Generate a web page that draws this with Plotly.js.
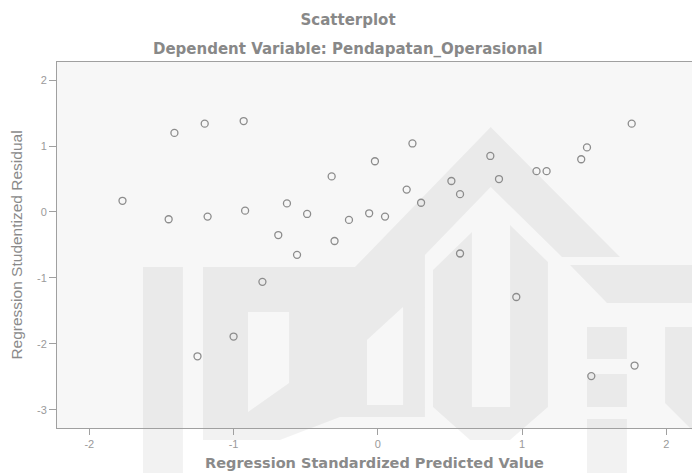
<!DOCTYPE html>
<html>
<head>
<meta charset="utf-8">
<script src="https://cdn.plot.ly/plotly-3.0.1.min.js"></script>
<style>
html, body { margin: 0; padding: 0; background: #ffffff; }
#chart { width: 692px; height: 473px; }
</style>
</head>
<body>
<div id="chart"></div>
<script>
// Regression Standardized Predicted Value (x) and Regression Studentized Residual (y)
const predictedValue = [-1.77, -1.45, -1.41, -1.25, -1.20, -1.18, -1.00, -0.93, -0.92, -0.80,
  -0.69, -0.63, -0.56, -0.49, -0.32, -0.30, -0.20, -0.06, -0.02, 0.05,
  0.20, 0.24, 0.30, 0.51, 0.57, 0.57, 0.78, 0.84, 0.96, 1.10,
  1.17, 1.41, 1.45, 1.48, 1.76, 1.78];
const studentizedResidual = [0.17, -0.11, 1.20, -2.19, 1.34, -0.07, -1.89, 1.38, 0.02, -1.06,
  -0.35, 0.13, -0.65, -0.03, 0.54, -0.44, -0.12, -0.02, 0.77, -0.07,
  0.34, 1.04, 0.14, 0.47, 0.27, -0.63, 0.85, 0.50, -1.29, 0.62,
  0.62, 0.80, 0.98, -2.49, 1.34, -2.33];
const xTickValues = [-2, -1, 0, 1, 2];
const yTickValues = [-3, -2, -1, 0, 1, 2];
const chartTitle = 'Scatterplot';
const chartSubtitle = 'Dependent Variable: Pendapatan_Operasional';
const xTitle = 'Regression Standardized Predicted Value';
const yTitle = 'Regression Studentized Residual';

// layout geometry (pixels)
const W = 692, H = 473;
const M = { l: 57, r: 0, t: 62, b: 45 };
const PW = W - M.l - M.r, PH = H - M.t - M.b;
function toPaper(p) { return [(p[0] - M.l) / PW, (H - M.b - p[1]) / PH]; }
function pathFrom(polys) {
  return polys.map(poly => poly.map((p, i) => {
    const q = toPaper(p);
    return (i ? 'L' : 'M') + q[0].toFixed(4) + ',' + q[1].toFixed(4);
  }).join(' ') + ' Z').join(' ');
}
// faint background watermark (decoration only), drawn as one union path
const watermarkPolys = [
  [[143,267],[183,267],[183,473],[143,473]],
  [[203,267],[355,267],[490.7,127],[620,257],[562,257],[490.7,187],[425,255],[425,417],[340,417],[280,440],[203,440]],
  [[248,312],[248,412],[289,383],[289,312]],
  [[367,340],[367,405],[403,405],[403,307]],
  [[433,270],[472,232],[472,407],[510,407],[510,225],[548,262],[548,407],[510,440],[470,440],[433,407]],
  [[587,327],[627,327],[627,359],[587,359]],
  [[587,374],[627,374],[627,407],[587,407]],
  [[587,419],[627,419],[627,473],[587,473]],
  [[570,265],[692,265],[692,303],[607,303]],
  [[665,327],[692,327],[692,430],[665,403]]
];
const watermarkShape = {
  type: 'path', xref: 'paper', yref: 'paper', layer: 'below',
  path: pathFrom(watermarkPolys), fillcolor: 'rgba(0,0,0,0.05)', line: { width: 0 }
};

const grey = '#8c8c8c';
const trace = {
  type: 'scatter', mode: 'markers',
  x: predictedValue, y: studentizedResidual,
  marker: { symbol: 'circle-open', size: 7, color: grey, line: { width: 1.3, color: grey } },
  hoverinfo: 'x+y'
};

const titleFont = { family: 'DejaVu Sans', size: 15, color: '#888888', weight: 'bold' };
const layout = {
  width: W, height: H,
  margin: M,
  paper_bgcolor: '#ffffff',
  plot_bgcolor: '#f7f7f7',
  showlegend: false,
  title: {
    text: chartTitle, xref: 'container', x: 0.503, xanchor: 'center',
    yref: 'container', y: 1 - 20 / H, yanchor: 'middle',
    font: titleFont
  },
  annotations: [{
    text: chartSubtitle, showarrow: false,
    xref: 'paper', x: (348 - M.l) / PW, xanchor: 'center',
    yref: 'paper', y: (H - M.b - 49) / PH, yanchor: 'middle',
    font: titleFont
  }],
  xaxis: {
    range: [-2.224, 2.178],
    tickvals: xTickValues, ticktext: xTickValues.map(String),
    ticks: 'outside', ticklen: 6, tickwidth: 1, tickcolor: '#a0a0a0',
    showgrid: false, zeroline: false,
    showline: true, linecolor: '#a0a0a0', linewidth: 1, mirror: true,
    tickfont: { family: 'Liberation Sans', size: 11, color: '#9a9a9a' },
    title: { text: xTitle, standoff: 8,
      font: { family: 'DejaVu Sans', size: 14.5, color: '#8a8a8a', weight: 'bold' } }
  },
  yaxis: {
    range: [-3.278, 2.276],
    tickvals: yTickValues, ticktext: yTickValues.map(String),
    ticks: 'outside', ticklen: 7, tickwidth: 1, tickcolor: '#a0a0a0',
    showgrid: false, zeroline: false,
    showline: true, linecolor: '#a0a0a0', linewidth: 1,
    tickfont: { family: 'Liberation Sans', size: 11, color: '#9a9a9a' },
    title: { text: yTitle, standoff: 10,
      font: { family: 'Liberation Sans', size: 15.5, color: '#8a8a8a' } }
  },
  shapes: [watermarkShape]
};

Plotly.newPlot('chart', [trace], layout, { displayModeBar: false, staticPlot: true });
</script>
</body>
</html>
